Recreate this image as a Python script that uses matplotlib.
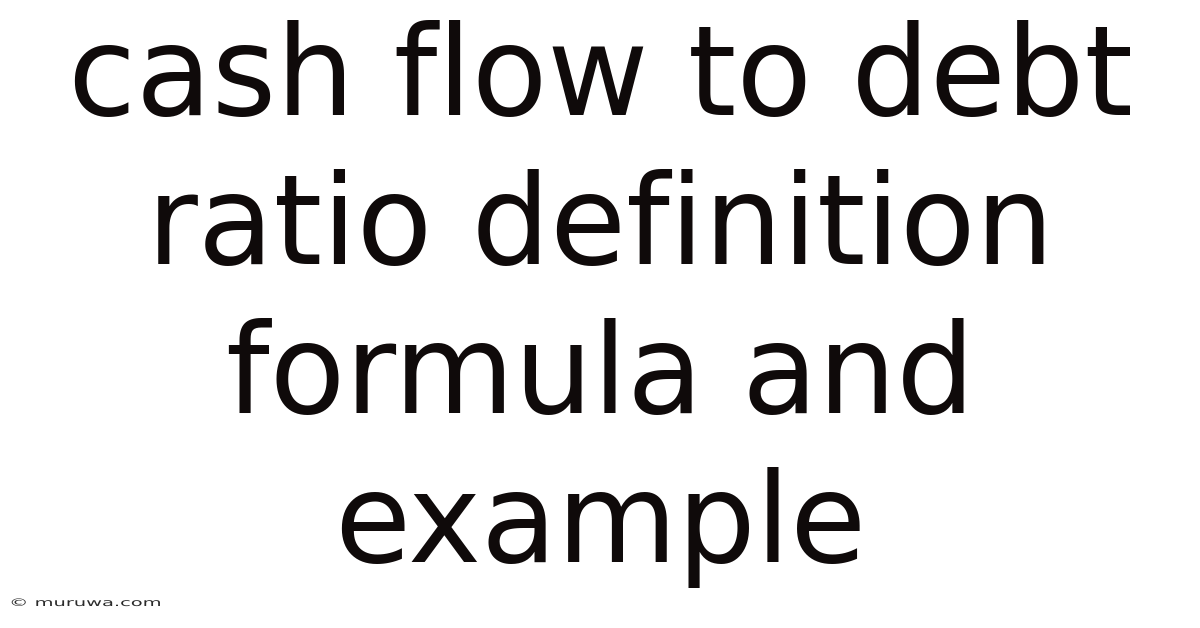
import matplotlib.pyplot as plt
from matplotlib.textpath import TextPath
from matplotlib.patches import PathPatch
from matplotlib.font_manager import FontProperties
from matplotlib.transforms import Affine2D, IdentityTransform

title_lines = ["cash flow to debt", "ratio definition", "formula and", "example"]
baselines = [115, 264, 413, 562]  # pixel rows from top
watermark = "© muruwa.com"

W, H = 1200, 628
fig = plt.figure(figsize=(W / 100, H / 100), dpi=100)
fig.patch.set_facecolor("white")

for line, y in zip(title_lines, baselines):
    fig.text(0.5, 1 - y / H, line, ha="center", va="baseline",
             fontsize=89, color="#0f0a0a", family="DejaVu Sans")

# watermark glyphs are horizontally stretched in the reference
wm_path = TextPath((0, 0), watermark, size=10.5,
                   prop=FontProperties(family="DejaVu Sans"))
stretch = Affine2D().scale(1.85, 1.0).translate(9, H - 606)
wm = PathPatch(stretch.transform_path(wm_path), facecolor="#2a2a2a",
               edgecolor="none", transform=IdentityTransform())
fig.add_artist(wm)

fig.savefig("out.png", dpi=100, facecolor="white")
